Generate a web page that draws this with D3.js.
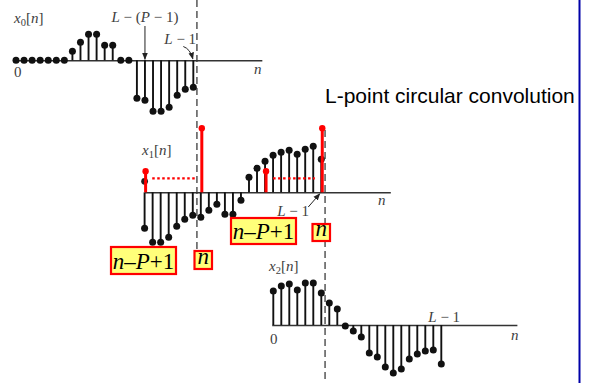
<!DOCTYPE html>
<html>
<head>
<meta charset="utf-8">
<script src="https://cdn.jsdelivr.net/npm/d3@7"></script>
<style>
  html, body { margin: 0; padding: 0; background: #fff; }
  svg { display: block; }
  .math { font-family: "Liberation Serif", "DejaVu Serif", serif; fill: #404040; }
</style>
</head>
<body>
<svg id="chart" width="591" height="383"></svg>
<script>
// ---- sequence values (amplitudes, arbitrary units) ----
const x0Values = [0, 0, 0, 0, 0, 0, 0, 9, 18, 26, 26, 15, 15, 0, 0, -38, -40, -51, -51, -47, -35, -29, -27];
const x1Values = [-36, -50, -50, -45, -34, -27, -23, -25, -18, -12, -22, -22, -8, 15, 24, 31, 37, 40, 42, 38, 43, 46, 33];
const x2Values = [34, 39, 41, 35, 42, 42, 32, 22, 16, -1, -6, -12, -28, -32, -42, -48, -44, -34, -29, -26, -25, -39];

// reversed, shifted filter window drawn on x1: end points at n-P+1 and n
const windowIndex = [0, 7, 15, 22];
const windowValues = [21, 64, 21, 64];
const windowDotted = [[0.95, 6.3], [16, 21.2]];
const windowDottedLevel = 14;
// sample of x1 sitting under the first red stem
const x1Overlap = [{ n: 0, v: 11 }];

// index markers
const x0LabelIndex = { lp: 16, l1: 22 };
const x1LabelIndex = { l1: 22 };
const x2LabelIndex = { l1: 21 };

const svg = d3.select("#chart");

// ---- layout of the three rows ----
const panels = [
  { values: x0Values, origin: 16,    step: 8.06, axisY: 60.3,  ext: [-0.12, 30.5] },
  { values: x1Values, origin: 144.6, step: 8.03, axisY: 192.3, ext: [0, 30.6] },
  { values: x2Values, origin: 273.3, step: 8.0,  axisY: 325,   ext: [-0.2, 30.45] }
];

panels.forEach(p => {
  const N = p.values.length;
  p.x = d3.scaleLinear().domain([0, N - 1]).range([p.origin, p.origin + (N - 1) * p.step]);
  p.y = d3.scaleLinear().domain([-60, 60]).range([p.axisY + 60, p.axisY - 60]);
});

// dashed alignment guides
const guideA = panels[0].x(22) + 3.6;
const guideB = panels[1].x(22) + 3.8;
svg.append("line").attr("x1", guideA).attr("x2", guideA).attr("y1", 0).attr("y2", 251)
  .attr("stroke", "#4a4a4a").attr("stroke-width", 1.4).attr("stroke-dasharray", "7,4");
svg.append("line").attr("x1", guideB).attr("x2", guideB).attr("y1", 130).attr("y2", 383)
  .attr("stroke", "#4a4a4a").attr("stroke-width", 1.4).attr("stroke-dasharray", "7,4");

// arrow marker
const defs = svg.append("defs");
defs.append("marker").attr("id", "head").attr("viewBox", "0 0 10 10")
  .attr("refX", 9).attr("refY", 5).attr("markerWidth", 7).attr("markerHeight", 7)
  .attr("markerUnits", "userSpaceOnUse").attr("orient", "auto")
  .append("path").attr("d", "M0,1 L10,5 L0,9 Z").attr("fill", "#222");

// ---- stems, dots and axes ----
panels.forEach(p => {
  const g = svg.append("g");
  const axisScale = d3.scaleLinear().domain(p.ext).range([p.x(p.ext[0]), p.x(p.ext[1])]);
  const ax = g.append("g").attr("transform", `translate(0,${p.axisY})`)
    .call(d3.axisBottom(axisScale).tickValues([]).tickSizeOuter(0));
  ax.select(".domain").attr("stroke", "#333").attr("stroke-width", 1.5);

  const data = p.values.map((v, n) => ({ n, v }));
  g.selectAll("line.stem").data(data.filter(d => d.v !== 0)).join("line")
    .attr("class", "stem")
    .attr("x1", d => p.x(d.n)).attr("x2", d => p.x(d.n))
    .attr("y1", p.y(0)).attr("y2", d => p.y(d.v))
    .attr("stroke", "#111").attr("stroke-width", 1.9);
  g.selectAll("circle.dot").data(data).join("circle")
    .attr("class", "dot")
    .attr("cx", d => p.x(d.n)).attr("cy", d => p.y(d.v)).attr("r", 3.5)
    .attr("fill", "#111");
});

// x1 overlay: filter window in red
{
  const p = panels[1];
  svg.selectAll("circle.overlap").data(x1Overlap).join("circle")
    .attr("class", "overlap")
    .attr("cx", d => p.x(d.n)).attr("cy", d => p.y(d.v)).attr("r", 3.4).attr("fill", "#222");
  const w = windowIndex.map((n, i) => ({ n, v: windowValues[i] }));
  svg.selectAll("line.wstem").data(w).join("line")
    .attr("class", "wstem")
    .attr("x1", d => p.x(d.n) + 1).attr("x2", d => p.x(d.n) + 1)
    .attr("y1", p.y(0)).attr("y2", d => p.y(d.v))
    .attr("stroke", "#ff0000").attr("stroke-width", 3);
  svg.selectAll("circle.wdot").data(w).join("circle")
    .attr("class", "wdot")
    .attr("cx", d => p.x(d.n) + 1).attr("cy", d => p.y(d.v)).attr("r", 3.2)
    .attr("fill", "#ff0000");
  svg.selectAll("line.wdot-line").data(windowDotted).join("line")
    .attr("class", "wdot-line")
    .attr("x1", d => p.x(d[0])).attr("x2", d => p.x(d[1]))
    .attr("y1", p.y(windowDottedLevel)).attr("y2", p.y(windowDottedLevel))
    .attr("stroke", "#ff0000").attr("stroke-width", 2.2).attr("stroke-dasharray", "2.5,2.5");
}

// ---- math labels ----
function seqLabel(x, y, sub) {
  const t = svg.append("text").attr("class", "math").attr("x", x).attr("y", y).attr("font-size", 15);
  t.append("tspan").attr("font-style", "italic").text("x");
  t.append("tspan").attr("font-size", 10.5).attr("dy", 3).text(sub);
  t.append("tspan").attr("dy", -3).text("[");
  t.append("tspan").attr("font-style", "italic").text("n");
  t.append("tspan").text("]");
}
function lMinus(x, y, rest, anchor) {
  const t = svg.append("text").attr("class", "math").attr("x", x).attr("y", y)
    .attr("font-size", 15).attr("text-anchor", anchor || "start");
  t.append("tspan").attr("font-style", "italic").text("L");
  rest.forEach(r => t.append("tspan").attr("font-style", r.i ? "italic" : "normal").text(r.s));
}
function plain(x, y, s, italic) {
  svg.append("text").attr("class", "math").attr("x", x).attr("y", y).attr("font-size", 15)
    .attr("font-style", italic ? "italic" : "normal").text(s);
}

// row 0
{
  const p = panels[0];
  seqLabel(14, 23, "0");
  plain(14, 77, "0");
  plain(254, 74, "n", true);
  const xa = p.x(x0LabelIndex.lp);
  lMinus(xa, 22, [{ s: " \u2212 (" }, { s: "P", i: true }, { s: " \u2212 1)" }], "middle");
  svg.append("line").attr("x1", xa).attr("x2", xa).attr("y1", 26).attr("y2", p.axisY - 1)
    .attr("stroke", "#222").attr("stroke-width", 1).attr("marker-end", "url(#head)");
  const xb = p.x(x0LabelIndex.l1);
  lMinus(xb - 29, 44, [{ s: " \u2212 1" }]);
  svg.append("path").attr("d", `M${xb - 10},46.5 Q${xb - 3},49 ${xb - 0.5},${p.axisY - 1.5}`)
    .attr("fill", "none").attr("stroke", "#222").attr("stroke-width", 1).attr("marker-end", "url(#head)");
}
// row 1
{
  const p = panels[1];
  seqLabel(142, 155, "1");
  plain(378, 205, "n", true);
  const xb = p.x(x1LabelIndex.l1);
  lMinus(xb - 44, 216, [{ s: " \u2212 1" }]);
  svg.append("line").attr("x1", xb - 13).attr("y1", 207).attr("x2", xb - 1.5).attr("y2", p.axisY + 1.5)
    .attr("stroke", "#222").attr("stroke-width", 1).attr("marker-end", "url(#head)");
}
// row 2
{
  const p = panels[2];
  seqLabel(269, 271, "2");
  plain(270, 344, "0");
  plain(511, 340, "n", true);
  const xb = p.x(x2LabelIndex.l1);
  lMinus(xb - 13, 322, [{ s: " \u2212 1" }]);
}

// ---- highlighted index boxes ----
function box(x, y, w, h, parts) {
  svg.append("rect").attr("x", x).attr("y", y).attr("width", w).attr("height", h)
    .attr("fill", "#ffff7a").attr("stroke", "#ff0000").attr("stroke-width", 2.2);
  const t = svg.append("text").attr("x", x + w / 2).attr("y", y + h - 5)
    .attr("text-anchor", "middle").attr("font-size", 23)
    .attr("font-family", "Liberation Serif, DejaVu Serif, serif").attr("fill", "#000");
  parts.forEach(pt => t.append("tspan").attr("font-style", pt.i ? "italic" : "normal").text(pt.s));
}
const nP1 = [{ s: "n", i: true }, { s: "\u2013" }, { s: "P", i: true }, { s: "+1" }];
const nOnly = [{ s: "n", i: true }];
box(111, 247, 65, 27, nP1);
box(194.5, 251, 17.5, 18, nOnly);
box(231, 218, 65, 26, nP1);
box(312.5, 224, 17.5, 17, nOnly);

// ---- caption and frame edge ----
svg.append("text").attr("x", 325).attr("y", 103)
  .attr("font-family", "Liberation Sans, Arial, sans-serif").attr("font-size", 21)
  .attr("fill", "#000").text("L-point circular convolution");
svg.append("line").attr("x1", 579.5).attr("x2", 579.5).attr("y1", 0).attr("y2", 383)
  .attr("stroke", "#0000a8").attr("stroke-width", 2);
</script>
</body>
</html>
